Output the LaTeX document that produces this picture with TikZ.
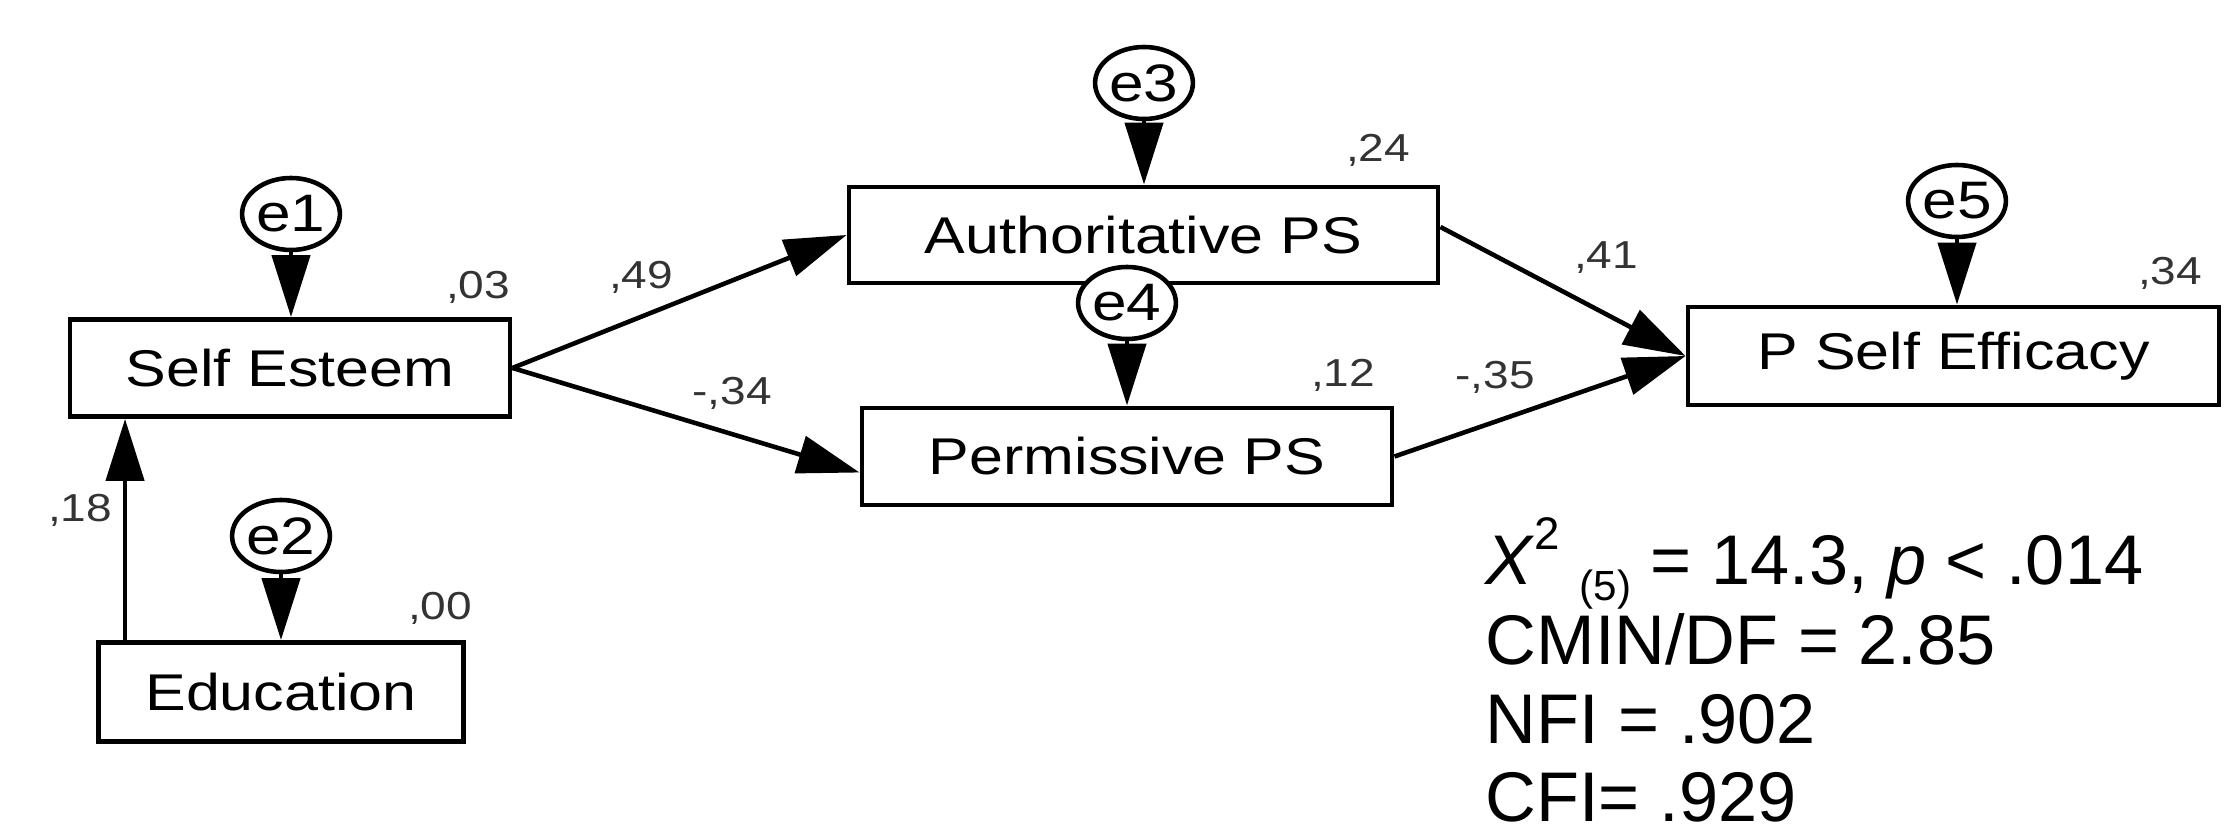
\documentclass[tikz,border=0pt]{standalone}
\usepackage{fontspec}
\setmainfont{Liberation Sans}
\newfontfamily\amosfont{Liberation Sans}[FakeStretch=1.18]
\usetikzlibrary{arrows.meta,shapes.geometric}

\begin{document}
\begin{tikzpicture}[
  varbox/.style={draw, line width=1.4pt, inner sep=0pt, minimum height=0.97cm,
    font=\amosfont\fontsize{14.7}{16}\selectfont},
  errnode/.style={draw, ellipse, fill=white, line width=1.3pt, inner sep=0pt,
    minimum width=0.94cm, minimum height=0.72cm,
    font=\amosfont\fontsize{15}{15}\selectfont},
  coef/.style={inner sep=0pt, text=black!80, font=\amosfont\fontsize{11.1}{12}\selectfont},
  regarrow/.style={line width=1.3pt, -{Triangle[length=0.62cm,width=0.38cm]}},
  fitline/.style={anchor=base west, inner sep=0pt, font=\fontsize{20}{24}\selectfont}]
\useasboundingbox (0,0) rectangle (22.39,8.37);
% observed variables
\node[varbox, minimum width=4.40cm] (selfest) at (2.90,4.69) {Self Esteem};
\node[varbox, minimum width=3.65cm, minimum height=0.99cm] (edu) at (2.81,1.45) {Education};
\node[varbox, minimum width=5.89cm, minimum height=0.96cm] (auth) at (11.435,6.02) {Authoritative PS};
\node[varbox, minimum width=5.30cm] (perm) at (11.27,3.805) {Permissive PS};
\node[varbox, minimum width=5.31cm, minimum height=0.98cm] (pse) at (19.535,4.81) {P Self Efficacy};
% error terms
\node[errnode] (e1) at (2.91,6.23) {e1};
\node[errnode] (e2) at (2.81,3.01) {e2};
\node[errnode] (e3) at (11.44,7.54) {e3};
\node[errnode] (e4) at (11.27,5.34) {e4};
\node[errnode] (e5) at (19.57,6.36) {e5};
\draw[regarrow] (e1.south) -- (e1.south |- selfest.north);
\draw[regarrow] (e2.south) -- (e2.south |- edu.north);
\draw[regarrow] (e3.south) -- (e3.south |- auth.north);
\draw[regarrow] (e4.south) -- (e4.south |- perm.north);
\draw[regarrow] (e5.south) -- (e5.south |- pse.north);
% paths
\draw[regarrow] ([xshift=0.29cm]edu.north west) -- ([xshift=0.29cm]edu.north west |- selfest.south);
\draw[regarrow] (selfest.east) -- (auth.west);
\draw[regarrow] (selfest.east) -- ([yshift=-0.16cm]perm.west);
\draw[regarrow] ([yshift=0.08cm]auth.east) -- (pse.west);
\draw[regarrow] (perm.east) -- (pse.west);
% coefficients
\node[coef] (r03) at (4.78,5.50) {,03};
\node[coef] (b18) at (0.80,3.27) {,18};
\node[coef] (r00) at (4.40,2.29) {,00};
\node[coef] (b49) at (6.41,5.60) {,49};
\node[coef] (b34) at (7.32,4.44) {-,34};
\node[coef] (r24) at (13.78,6.87) {,24};
\node[coef] (r12) at (13.43,4.62) {,12};
\node[coef] (b41) at (16.06,5.79) {,41};
\node[coef] (b35) at (14.95,4.60) {-,35};
\node[coef] (r34) at (21.70,5.64) {,34};
% fit indices
\node[fitline] (chisq) at (14.85,2.52) {\textit{X}\raisebox{0.5em}{\fontsize{13}{13}\selectfont 2} \raisebox{-0.22em}{\fontsize{12}{12}\selectfont (5)} = 14.3, \textit{p} < .014};
\node[fitline] (cmin) at (14.85,1.72) {CMIN/DF = 2.85};
\node[fitline] (nfi) at (14.85,0.93) {NFI = .902};
\node[fitline] (cfi) at (14.85,0.15) {CFI= .929};
\end{tikzpicture}
\end{document}
